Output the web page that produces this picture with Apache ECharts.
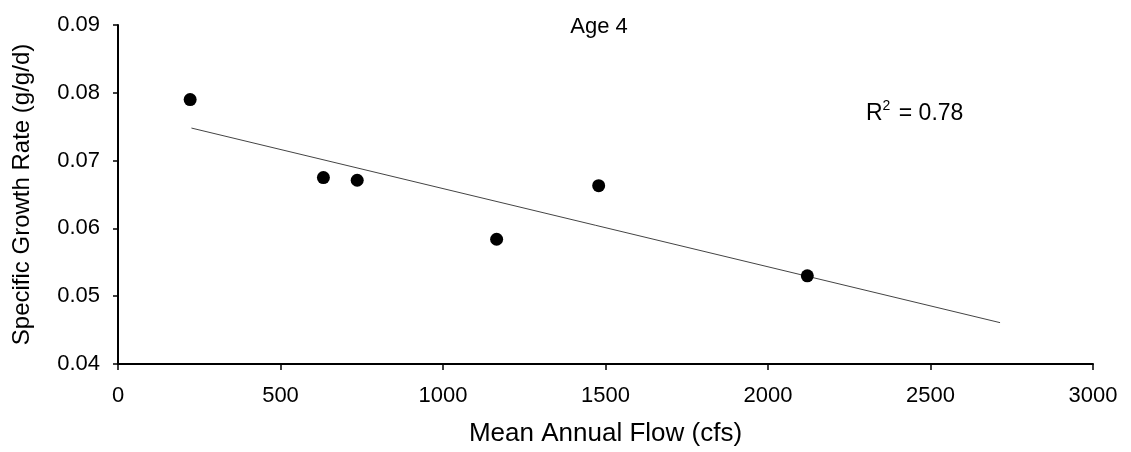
<!DOCTYPE html>
<html>
<head>
<meta charset="utf-8">
<script src="https://cdn.jsdelivr.net/npm/echarts@6/dist/echarts.min.js"></script>
<style>
html,body{margin:0;padding:0;background:#fff;}
#c{width:1131px;height:452px;}
</style>
</head>
<body>
<div id="c"></div>
<script>
// Data
var flow = [222, 632, 736, 1165, 1479, 2121];
var growth = [0.0790, 0.0675, 0.0671, 0.0584, 0.0663, 0.0530];
var trendX = [226, 2714];
var trendY = [0.0748, 0.0461];
var xTicks = [0, 500, 1000, 1500, 2000, 2500, 3000];
var yTicks = [0.04, 0.05, 0.06, 0.07, 0.08, 0.09];

var points = flow.map(function (x, i) { return [x, growth[i]]; });
var trend = trendX.map(function (x, i) { return [x, trendY[i]]; });

var FONT = 'Liberation Sans, Arial, sans-serif';
var chart = echarts.init(document.getElementById('c'), null, {renderer: 'canvas'});
chart.setOption({
  animation: false,
  backgroundColor: '#ffffff',
  title: {
    text: 'Age 4',
    left: 594, top: 11,
    textAlign: 'center',
    textStyle: {fontFamily: FONT, fontSize: 22, fontWeight: 'normal', color: '#000'}
  },
  grid: {left: 118, right: 38, top: 25, bottom: 87, containLabel: false},
  xAxis: {
    type: 'value',
    min: xTicks[0], max: xTicks[xTicks.length - 1], interval: 500,
    name: 'Mean Annual Flow (cfs)',
    nameLocation: 'middle', nameGap: 57,
    nameTextStyle: {fontFamily: FONT, fontSize: 26, color: '#000'},
    axisLine: {show: true, lineStyle: {color: '#000', width: 2}},
    axisTick: {show: true, inside: false, length: 6, lineStyle: {color: '#000', width: 1.5}},
    axisLabel: {fontFamily: FONT, fontSize: 22, color: '#000', margin: 21,
      formatter: function (v) { return String(v); }},
    splitLine: {show: false}
  },
  yAxis: {
    type: 'value',
    min: yTicks[0], max: yTicks[yTicks.length - 1], interval: 0.01,
    name: 'Specific Growth Rate (g/g/d)',
    nameLocation: 'middle', nameGap: 84, nameRotate: 90,
    nameTextStyle: {fontFamily: FONT, fontSize: 24, color: '#000'},
    axisLine: {show: true, lineStyle: {color: '#000', width: 2}},
    axisTick: {show: true, inside: false, length: 5, lineStyle: {color: '#000', width: 1.5}},
    axisLabel: {fontFamily: FONT, fontSize: 22, color: '#000', margin: 18,
      formatter: function (v) { return v.toFixed(2); }},
    splitLine: {show: false}
  },
  series: [
    {
      type: 'line',
      data: trend,
      symbol: 'none',
      lineStyle: {color: '#444', width: 1},
      silent: true,
      z: 1
    },
    {
      type: 'scatter',
      data: points,
      symbol: 'circle',
      symbolSize: 13,
      itemStyle: {color: '#000', opacity: 1},
      z: 3
    }
  ],
  graphic: [{
    type: 'text',
    left: 866, top: 99,
    style: {
      text: '{r|R}{s|2}{r| = 0.78}',
      rich: {
        r: {fontFamily: FONT, fontSize: 23, fill: '#000', color: '#000', lineHeight: 26, verticalAlign: 'bottom'},
        s: {fontFamily: FONT, fontSize: 14, fill: '#000', color: '#000', lineHeight: 14, verticalAlign: 'top', padding: [0, 2, 0, 0]}
      }
    }
  }]
});
</script>
</body>
</html>
